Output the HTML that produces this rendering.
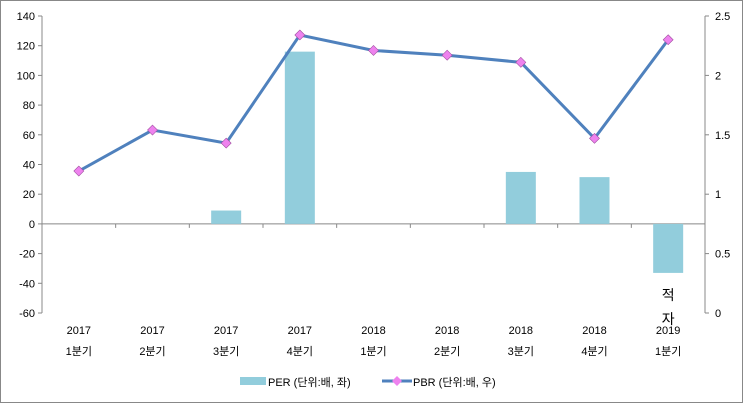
<!DOCTYPE html>
<html><head><meta charset="utf-8"><style>
body{margin:0;background:#fff;font-family:"Liberation Sans","Noto Sans CJK KR",sans-serif;}
svg text{font-family:"Liberation Sans","Noto Sans CJK KR",sans-serif;font-size:11px;fill:#000;}
</style></head><body>
<svg id="c" width="743" height="403">
<rect x="0.5" y="0.5" width="742" height="402" fill="#fff" stroke="#888"/>
</svg>
<script>
const years=["2017","2017","2017","2017","2018","2018","2018","2018","2019"];
const quarters=["1분기","2분기","3분기","4분기","1분기","2분기","3분기","4분기","1분기"];
const per=[null,null,9,116,null,null,35,31.5,-33];
const pbr=[1.195,1.54,1.43,2.34,2.21,2.17,2.11,1.47,2.30];
const leftTicks=[-60,-40,-20,0,20,40,60,80,100,120,140];
const rightTicks=[0,0.5,1,1.5,2,2.5];
const rightTickLabels=["0","0.5","1","1.5","2","2.5"];
const NS="http://www.w3.org/2000/svg";
const svg=document.getElementById('c');
const X0=42,X1=705,YT=16,YB=313;
const n=years.length,bw=(X1-X0)/n;
const xC=i=>X0+bw*(i+0.5);
const yL=v=>YB-(v+60)/200*(YB-YT);
const yR=v=>YB-v/2.5*(YB-YT);
function mk(t,a,txt){const e=document.createElementNS(NS,t);for(const k in a)e.setAttribute(k,a[k]);if(txt!=null)e.textContent=txt;svg.appendChild(e);return e;}
let e;
e=mk('line',{x1:X0,y1:YT,x2:X0,y2:YB,stroke:'#888'});


e=mk('line',{x1:X1,y1:YT,x2:X1,y2:YB,stroke:'#888'});


leftTicks.forEach(v=>{const y=yL(v);
 mk('line',{x1:X0-4,y1:y,x2:X0,y2:y,stroke:'#888'});
 e=mk('text',{x:X0-7,y:y+4,'text-anchor':'end'},String(v));
 
 });
rightTicks.forEach((v,i)=>{const y=yR(v);
 mk('line',{x1:X1,y1:y,x2:X1+4,y2:y,stroke:'#888'});
 e=mk('text',{x:X1+10,y:y+4},rightTickLabels[i]);
 
 });
const y0=yL(0);
e=mk('line',{x1:X0,y1:y0,x2:X1,y2:y0,stroke:'#888'});


for(let i=0;i<=n;i++){mk('line',{x1:X0+bw*i,y1:y0,x2:X0+bw*i,y2:y0+4,stroke:'#888'});}
per.forEach((v,i)=>{if(v==null)return;const y=yL(v);
 e=mk('rect',{x:xC(i)-15,y:Math.min(y,y0),width:30,height:Math.abs(y-y0),fill:'#92cddc'});
 
 });
years.forEach((yv,i)=>{
 e=mk('text',{x:xC(i),y:334,'text-anchor':'middle'},yv);
 
 
 e=mk('text',{x:xC(i),y:355,'text-anchor':'middle','font-size':'12'},quarters[i]);
 
 });
e=mk('text',{x:xC(8),y:300,'text-anchor':'middle',style:'font-size:14px'},'적');


e=mk('text',{x:xC(8),y:324,'text-anchor':'middle',style:'font-size:14px'},'자');


e=mk('polyline',{points:pbr.map((v,i)=>xC(i)+','+yR(v)).join(' '),fill:'none',stroke:'#4f81bd','stroke-width':3});


pbr.forEach((v,i)=>{const x=xC(i),y=yR(v);
 e=mk('polygon',{points:`${x},${y-5} ${x+5},${y} ${x},${y+5} ${x-5},${y}`,fill:'#ee82ee',stroke:'#a050a0','stroke-width':0.6});
 
 });
e=mk('rect',{x:240,y:377,width:26,height:8,fill:'#92cddc'});


e=mk('text',{x:268,y:386},'PER (단위:배, 좌)');


e=mk('line',{x1:382,y1:381,x2:412,y2:381,stroke:'#4f81bd','stroke-width':3});


e=mk('polygon',{points:'397,376 402,381 397,386 392,381',fill:'#ee82ee'});


e=mk('text',{x:413,y:386},'PBR (단위:배, 우)');


</script>
</body></html>
